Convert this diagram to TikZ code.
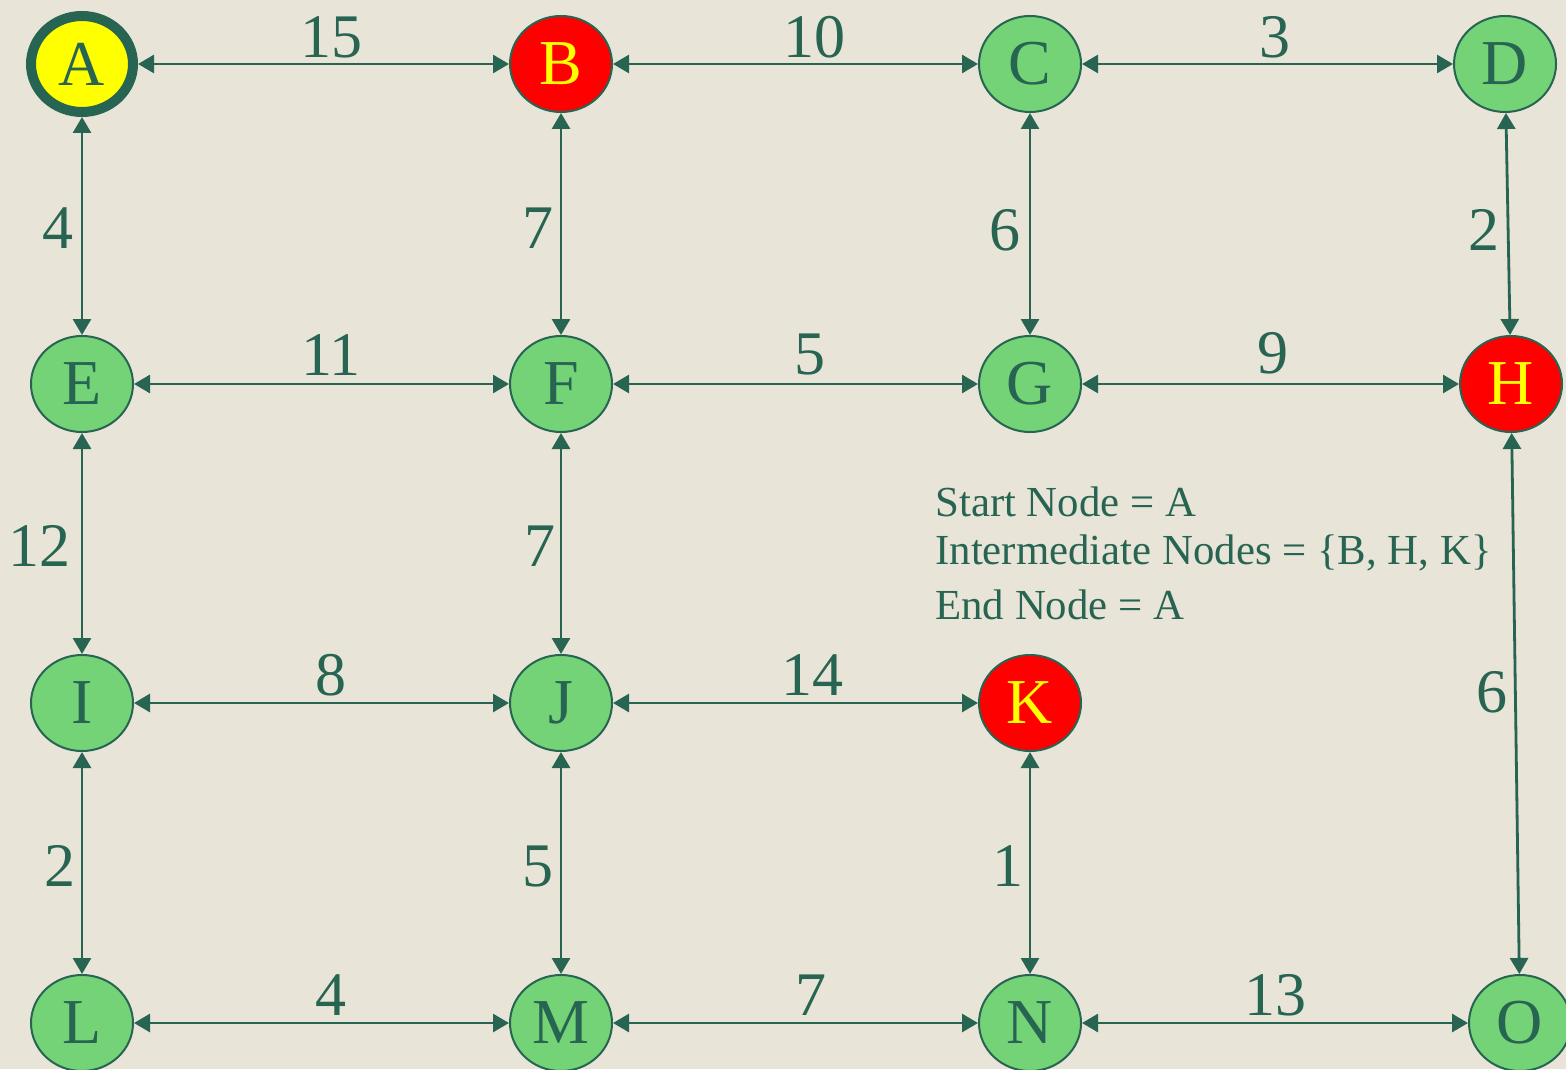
\documentclass[tikz,border=0pt]{standalone}
\usepackage{fontspec}
\setmainfont{Liberation Serif}
\usetikzlibrary{arrows.meta,shapes.geometric}
\definecolor{bg}{HTML}{E8E4D8}
\definecolor{dg}{HTML}{276452}
\definecolor{lg}{HTML}{75D377}
\definecolor{rd}{HTML}{FF0000}
\definecolor{yl}{HTML}{FFFF00}
\begin{document}
\begin{tikzpicture}[x=0.5pt,y=-0.5pt,
  vtx/.style={ellipse, draw=dg, line width=1pt, fill=lg, minimum width=51pt, minimum height=48pt, inner sep=0pt, text=dg, font=\fontsize{32}{32}\selectfont},
  inter/.style={vtx, fill=rd, text=yl},
  startv/.style={vtx, fill=yl, line width=5pt},
  edge/.style={draw=dg, line width=1.4pt, {Triangle[length=8pt,width=9pt]}-{Triangle[length=8pt,width=9pt]}},
  lbl/.style={text=dg, font=\fontsize{31}{31}\selectfont, inner sep=0pt},
  info/.style={text=dg, font=\fontsize{21.4}{25.5}\selectfont, inner sep=0pt, anchor=west}
]
\fill[bg] (0,0) rectangle (1566,1069);
\useasboundingbox (0,0) rectangle (1566,1069);

\node[startv] (A) at (82,64) {A};
\node[inter] (B) at (561,64) {B};
\node[vtx] (C) at (1030,64) {C};
\node[vtx] (D) at (1505,64) {D};
\node[vtx] (E) at (82,384) {E};
\node[vtx] (F) at (561,384) {F};
\node[vtx] (G) at (1030,384) {G};
\node[inter] (H) at (1511,384) {H};
\node[vtx] (I) at (82,703) {I};
\node[vtx] (J) at (561,703) {J};
\node[inter] (K) at (1030,703) {K};
\node[vtx] (L) at (82,1023) {L};
\node[vtx] (M) at (561,1023) {M};
\node[vtx] (N) at (1030,1023) {N};
\node[vtx] (O) at (1520,1023) {O};

\draw[edge] (A) -- (B);
\draw[edge] (B) -- (C);
\draw[edge] (C) -- (D);
\draw[edge] (A) -- (E);
\draw[edge] (B) -- (F);
\draw[edge] (C) -- (G);
\draw[edge] (D) -- (H);
\draw[edge] (E) -- (F);
\draw[edge] (F) -- (G);
\draw[edge] (G) -- (H);
\draw[edge] (E) -- (I);
\draw[edge] (F) -- (J);
\draw[edge] (H) -- (O);
\draw[edge] (I) -- (J);
\draw[edge] (J) -- (K);
\draw[edge] (I) -- (L);
\draw[edge] (J) -- (M);
\draw[edge] (K) -- (N);
\draw[edge] (L) -- (M);
\draw[edge] (M) -- (N);
\draw[edge] (N) -- (O);

\node[lbl] (lAB) at (331,37) {15};
\node[lbl] (lBC) at (814,37) {10};
\node[lbl] (lCD) at (1275,37) {3};
\node[lbl] (lAE) at (58,228) {4};
\node[lbl] (lBF) at (538,228) {7};
\node[lbl] (lCG) at (1005,230) {6};
\node[lbl] (lDH) at (1484,230) {2};
\node[lbl] (lEF) at (331,355) {11};
\node[lbl] (lFG) at (810,355) {5};
\node[lbl] (lGH) at (1273,353) {9};
\node[lbl] (lEI) at (40,546) {12};
\node[lbl] (lFJ) at (540,546) {7};
\node[lbl] (lHO) at (1492,692) {6};
\node[lbl] (lIJ) at (331,675) {8};
\node[lbl] (lJK) at (812,675) {14};
\node[lbl] (lIL) at (60,866) {2};
\node[lbl] (lJM) at (538,866) {5};
\node[lbl] (lKN) at (1008,866) {1};
\node[lbl] (lLM) at (331,995) {4};
\node[lbl] (lMN) at (811,995) {7};
\node[lbl] (lNO) at (1275,995) {13};

\node[info] (t1) at (935,502) {Start Node = A};
\node[info] (t2) at (935,553) {Intermediate Nodes = \{B, H, K\}};
\node[info] (t3) at (935,605) {End Node = A};
\end{tikzpicture}
\end{document}
